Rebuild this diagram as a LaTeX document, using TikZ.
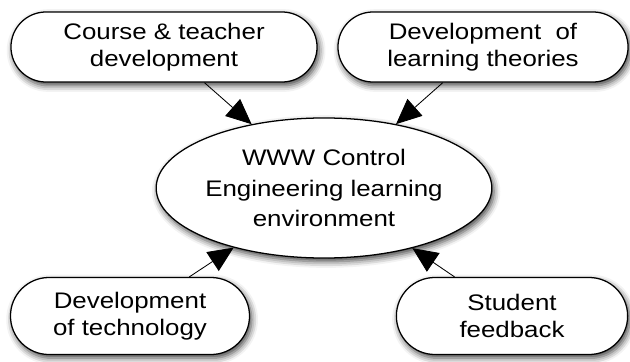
\documentclass[tikz,border=0pt]{standalone}
\usepackage{fontspec}
\setmainfont{Liberation Sans}[FakeStretch=1.15]
\usepackage{tikz}
\usetikzlibrary{arrows.meta,shapes.geometric,shapes.misc,shadows.blur}

\begin{document}
\begin{tikzpicture}[x=0.025cm,y=-0.025cm,>={Triangle[length=18pt,width=16pt]},
  every node/.style={font=\fontsize{16}{19.5}\selectfont,align=center},
  pill/.style={draw,line width=0.9pt,fill=white,rounded rectangle,inner sep=0pt,
    blur shadow={shadow xshift=1.5pt,shadow yshift=-2.5pt,shadow blur radius=4.5pt,shadow opacity=75}},
  hub/.style={draw,line width=0.9pt,fill=white,ellipse,inner sep=0pt,font=\fontsize{16}{22}\selectfont,
    blur shadow={shadow xshift=1.5pt,shadow yshift=-2.5pt,shadow blur radius=4.5pt,shadow opacity=75}}]
\useasboundingbox (0,0) rectangle (630,361);
\node[hub,minimum width=8.2cm,minimum height=3.5cm] (env) at (324,188) {WWW Control\\Engineering learning\\environment};
\node[pill,minimum width=7.65cm,minimum height=1.75cm] (course) at (164,47) {Course \& teacher\\development};
\node[pill,minimum width=7.25cm,minimum height=1.75cm] (theory) at (483,47) {Development\ \ of\\learning theories};
\node[pill,minimum width=5.975cm,minimum height=1.925cm] (tech) at (130,316) {Development\\of technology};
\node[pill,minimum width=5.78cm,minimum height=1.925cm] (student) at (512,316) {Student\\feedback};
\draw[->,line width=0.6pt] (course) -- (env);
\draw[->,line width=0.6pt] (theory) -- (env);
\draw[->,line width=0.6pt] (tech) -- (env);
\draw[->,line width=0.6pt] (student) -- (env);
\end{tikzpicture}
\end{document}
